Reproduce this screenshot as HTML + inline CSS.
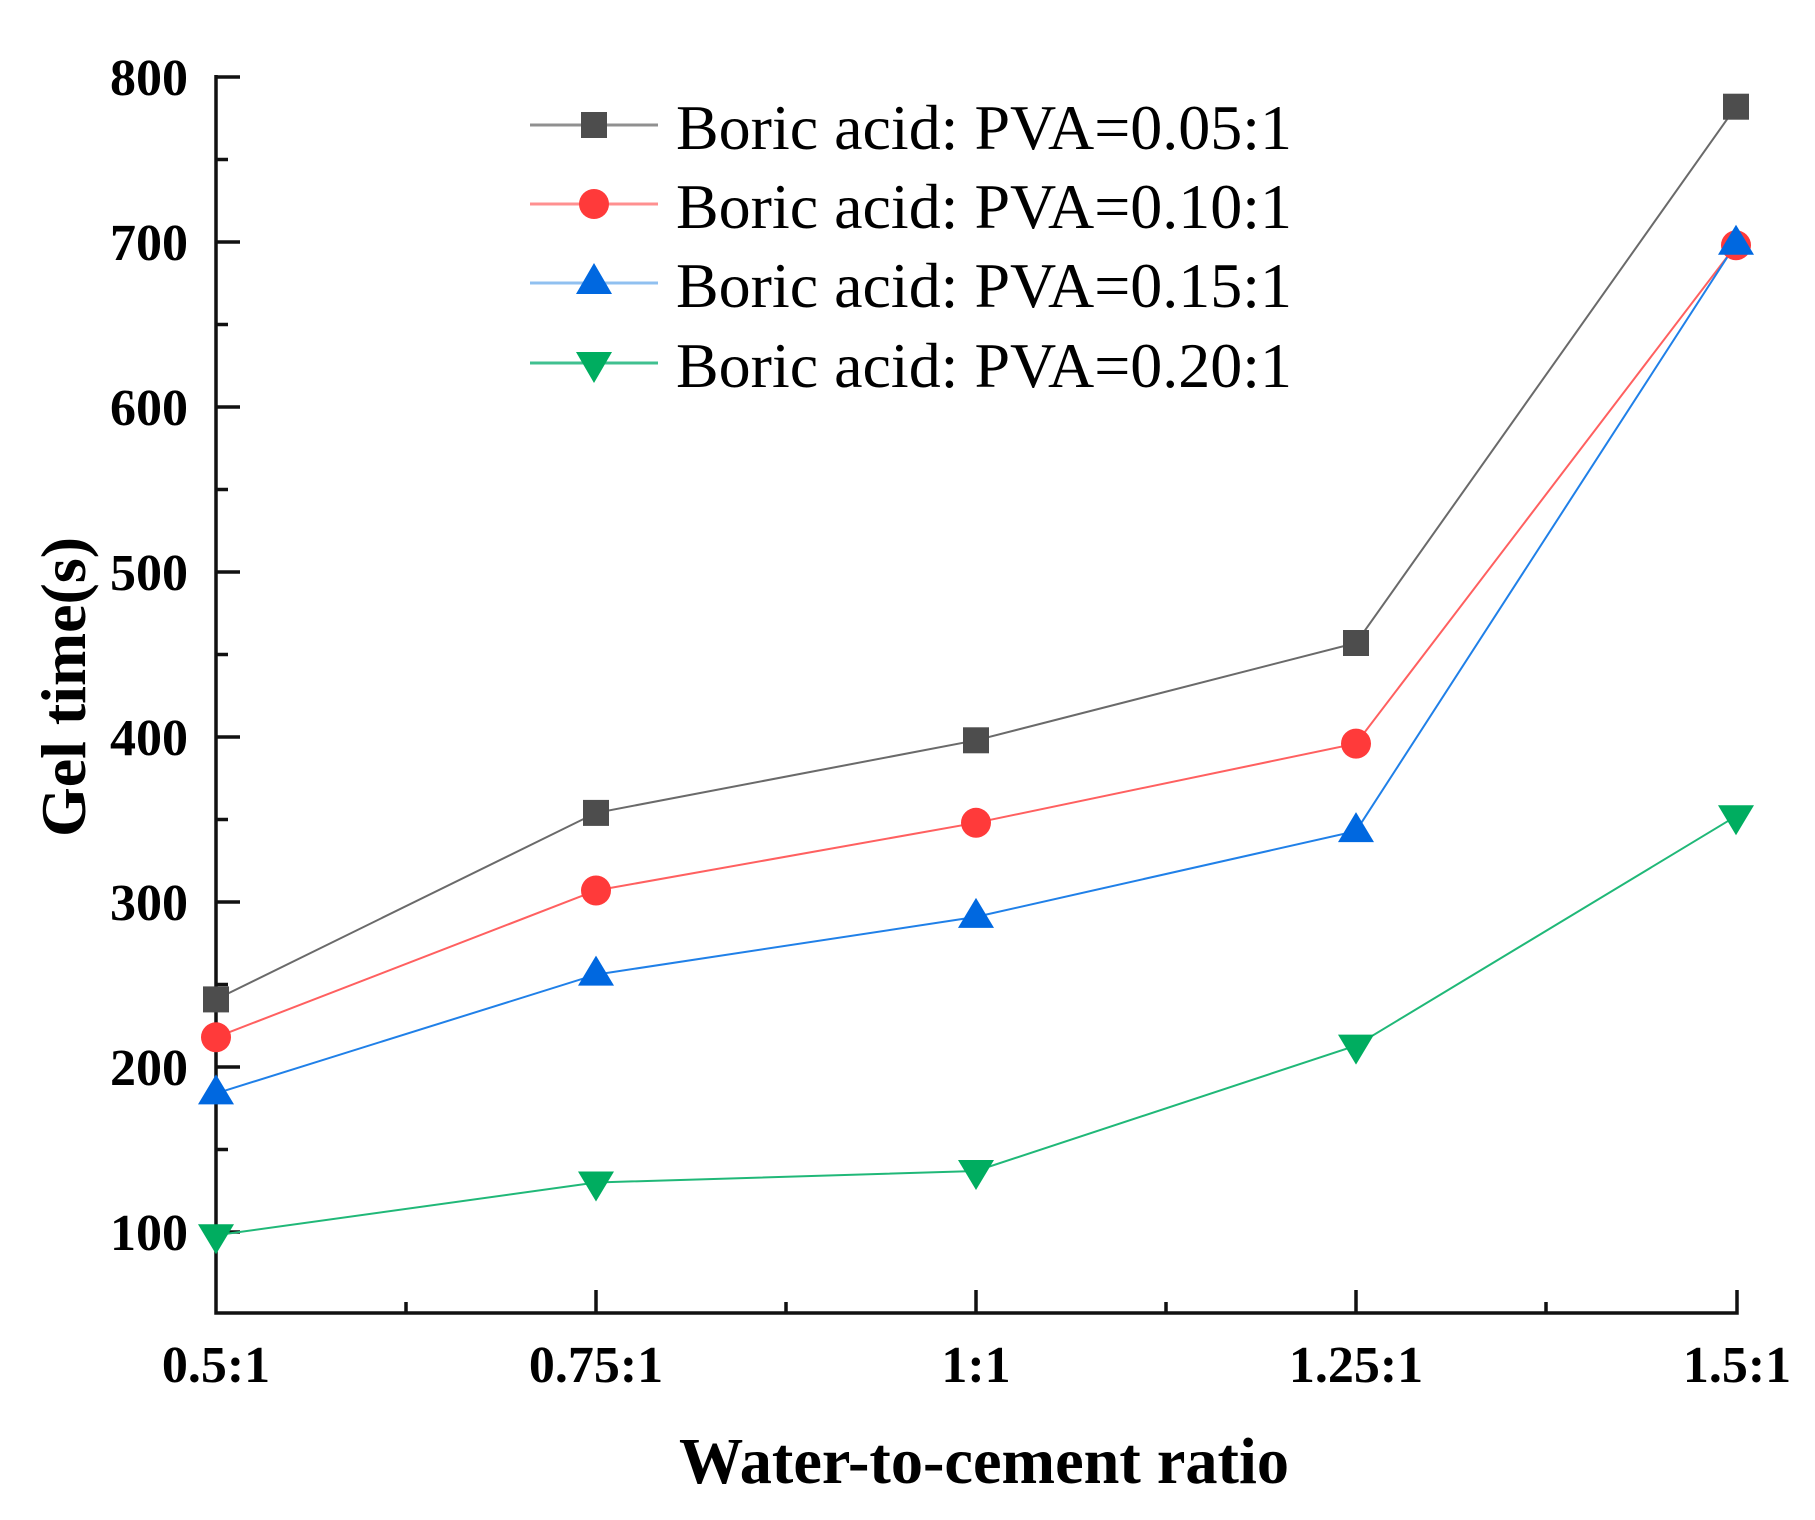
<!DOCTYPE html>
<html><head><meta charset="utf-8"><style>html,body{margin:0;padding:0;background:#fff}svg{display:block}</style></head>
<body>
<svg width="1815" height="1520" viewBox="0 0 1815 1520" xmlns="http://www.w3.org/2000/svg">
<g stroke="#111" stroke-width="3.5" fill="none">
<path d="M216,75 V1313 H1737 V1290"/>
<path d="M216,77 h24 M216,242 h24 M216,407 h24 M216,572 h24 M216,737 h24 M216,902 h24 M216,1067 h24 M216,1232 h24"/>
<path d="M216,159.5 h12 M216,324.5 h12 M216,489.5 h12 M216,654.5 h12 M216,819.5 h12 M216,984.5 h12 M216,1149.5 h12"/>
<path d="M596,1313 v-23 M976,1313 v-23 M1356,1313 v-23"/>
<path d="M406,1313 v-11 M786,1313 v-11 M1166,1313 v-11 M1546,1313 v-11"/>
</g>
<g font-family="Liberation Serif, serif" font-weight="bold" font-size="52" fill="#000" text-anchor="end">
<text x="188" y="95">800</text><text x="188" y="260">700</text><text x="188" y="425">600</text><text x="188" y="590">500</text>
<text x="188" y="755">400</text><text x="188" y="920">300</text><text x="188" y="1085">200</text><text x="188" y="1250">100</text>
</g>
<g font-family="Liberation Serif, serif" font-weight="bold" font-size="52" fill="#000" text-anchor="middle">
<text x="216" y="1382">0.5:1</text><text x="596" y="1382">0.75:1</text><text x="976" y="1382">1:1</text><text x="1356" y="1382">1.25:1</text><text x="1737" y="1382">1.5:1</text>
</g>
<text x="984" y="1483" font-family="Liberation Serif, serif" font-weight="bold" font-size="66" text-anchor="middle" textLength="610" lengthAdjust="spacingAndGlyphs">Water-to-cement ratio</text>
<text transform="translate(85,687) rotate(-90)" font-family="Liberation Serif, serif" font-weight="bold" font-size="64" text-anchor="middle" textLength="300" lengthAdjust="spacingAndGlyphs">Gel time(s)</text>

<polyline points="216,999.4 596,812.9 976,740.3 1356,643 1736,106.7" fill="none" stroke="#6a6a6a" stroke-width="2"/>
<polyline points="216,1037.3 596,890.5 976,822.8 1356,743.6 1736,245.3" fill="none" stroke="#ff6060" stroke-width="2"/>
<polyline points="216,1093.4 596,974.6 976,916.9 1356,831.1 1736,243.7" fill="none" stroke="#2080e8" stroke-width="2"/>
<polyline points="216,1235.3 596,1182.5 976,1171 1356,1045.6 1736,816.2" fill="none" stroke="#20b878" stroke-width="2"/>

<g fill="#4d4d4d">
<rect x="203" y="986.4" width="26" height="26"/><rect x="583" y="799.9" width="26" height="26"/><rect x="963" y="727.3" width="26" height="26"/><rect x="1343" y="630" width="26" height="26"/><rect x="1723" y="93.7" width="26" height="26"/>
</g>
<g fill="#ff3a3a">
<circle cx="216" cy="1037.3" r="15"/><circle cx="596" cy="890.5" r="15"/><circle cx="976" cy="822.8" r="15"/><circle cx="1356" cy="743.6" r="15"/><circle cx="1736" cy="245.3" r="15"/>
</g>
<g fill="#0068e0">
<polygon points="216,1074.4 198,1104.4 234,1104.4"/><polygon points="596,955.6 578,985.6 614,985.6"/><polygon points="976,897.9 958,927.9 994,927.9"/><polygon points="1356,812.1 1338,842.1 1374,842.1"/><polygon points="1736,224.7 1718,254.7 1754,254.7"/>
</g>
<g fill="#00ad60">
<polygon points="216,1254.3 198,1224.3 234,1224.3"/><polygon points="596,1201.5 578,1171.5 614,1171.5"/><polygon points="976,1190 958,1160 994,1160"/><polygon points="1356,1064.6 1338,1034.6 1374,1034.6"/><polygon points="1736,835.2 1718,805.2 1754,805.2"/>
</g>

<g stroke-width="3">
<line x1="530" y1="125" x2="658" y2="125" stroke="#909090"/>
<line x1="530" y1="204" x2="658" y2="204" stroke="#ff9090"/>
<line x1="530" y1="283" x2="658" y2="283" stroke="#90c0f0"/>
<line x1="530" y1="363" x2="658" y2="363" stroke="#40c090"/>
</g>
<rect x="581" y="112" width="26" height="26" fill="#4d4d4d"/>
<circle cx="594" cy="204" r="15" fill="#ff3a3a"/>
<polygon points="594,263 576,294 612,294" fill="#0068e0"/>
<polygon points="594,383 576,352 612,352" fill="#00ad60"/>
<g font-family="Liberation Serif, serif" font-size="64" fill="#000">
<text x="676" y="149" textLength="616" lengthAdjust="spacingAndGlyphs">Boric acid: PVA=0.05:1</text>
<text x="676" y="228" textLength="616" lengthAdjust="spacingAndGlyphs">Boric acid: PVA=0.10:1</text>
<text x="676" y="307" textLength="616" lengthAdjust="spacingAndGlyphs">Boric acid: PVA=0.15:1</text>
<text x="676" y="387" textLength="616" lengthAdjust="spacingAndGlyphs">Boric acid: PVA=0.20:1</text>
</g>
</svg>
</body></html>
